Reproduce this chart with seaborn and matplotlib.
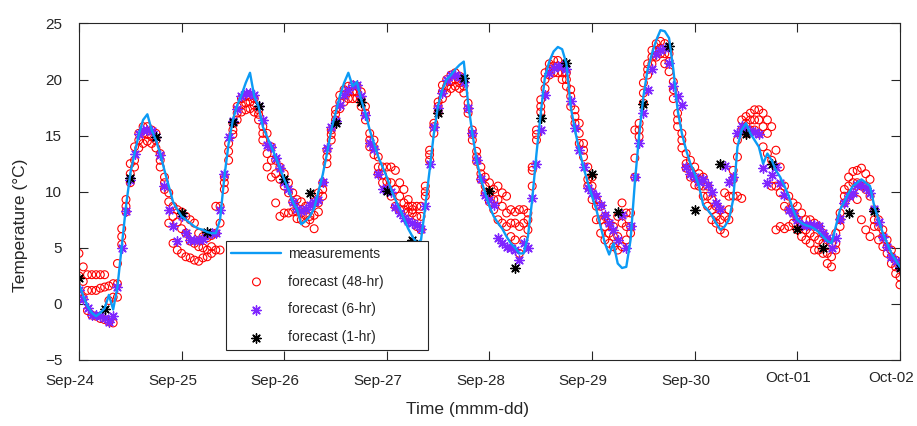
import matplotlib
matplotlib.use("Agg")
import matplotlib.pyplot as plt
import matplotlib.transforms as mtransforms
import numpy as np
import pandas as pd
import seaborn as sns

start = "2019-09-24"

# hourly measured temperature (degC), Sep-24 00:00 .. Oct-02 00:00
meas = [
    1.8, 0.7, -0.2, -0.8, -1.1, -0.8, -0.4, 0.8, -0.5, 1.5, 5.1, 8.7, 11.6, 13.4, 15.1, 16.4, 16.9, 15.5, 14.6, 13.4, 11.9, 10.5, 9.1, 8.4,
    7.8, 7.5, 7.2, 6.9, 6.7, 6.6, 6.4, 6.3, 6.3, 7.5, 11.3, 14.3, 16.4, 17.7, 18.6, 19.7, 20.6, 18.5, 17.6, 15.8, 14.9, 14.0, 13.1, 12.1,
    11.1, 10.2, 9.1, 8.4, 7.1, 7.4, 7.8, 8.5, 10.0, 11.5, 13.4, 15.5, 17.0, 18.5, 19.7, 20.6, 19.4, 19.8, 18.2, 17.0, 15.5, 14.3, 13.1, 12.2,
    11.3, 10.2, 9.3, 8.5, 7.6, 6.7, 6.0, 5.4, 5.7, 8.7, 11.9, 15.2, 17.7, 19.1, 20.0, 20.4, 20.9, 21.3, 21.6, 17.9, 15.2, 12.8, 11.1, 9.9,
    8.7, 7.8, 7.2, 6.7, 6.0, 5.4, 5.0, 4.5, 4.5, 6.0, 9.3, 13.4, 17.0, 20.3, 21.6, 22.5, 22.9, 22.7, 21.4, 17.6, 15.5, 13.7, 12.2, 10.8,
    9.6, 8.4, 6.9, 5.4, 4.4, 5.4, 3.6, 3.2, 3.3, 5.7, 10.8, 15.0, 18.5, 20.9, 22.3, 23.5, 24.4, 24.3, 23.7, 20.9, 17.3, 15.2, 13.7, 12.5,
    11.6, 10.5, 8.8, 8.4, 7.9, 7.2, 6.6, 6.9, 7.5, 9.3, 14.0, 15.5, 16.1, 15.2, 14.6, 14.0, 12.5, 13.4, 12.8, 11.9, 11.3, 10.5, 9.6, 8.4,
    7.5, 7.2, 7.0, 6.9, 6.7, 6.4, 6.0, 5.6, 5.4, 6.9, 8.4, 9.1, 9.9, 10.5, 10.8, 11.1, 10.8, 10.5, 8.7, 7.5, 6.3, 5.4, 4.5, 3.9,
    3.3,
]

# 48-hr forecast: several runs overlap at each hour (upper, middle, lower)
fc48_hi = [
    4.5, 3.3, 2.6, 2.6, 2.6, 2.6, 2.6, 1.6, 1.8, 3.6, 6.7, 9.3, 12.5, 14.0, 15.2, 15.8, 15.8, 15.5, 15.2, 13.4, 11.3, 9.9, 8.7, 8.4,
    8.2, 7.8, 7.5, 7.2, 6.3, 6.0, 5.9, 6.1, 8.7, 8.7, 11.3, 14.3, 16.1, 17.6, 18.3, 18.5, 18.5, 18.3, 17.3, 15.8, 15.2, 14.0, 12.8, 12.2,
    11.6, 10.8, 9.9, 9.3, 9.1, 8.7, 8.7, 9.1, 9.9, 10.8, 13.7, 15.5, 17.3, 18.6, 19.1, 19.4, 19.5, 19.4, 18.9, 17.6, 15.2, 14.6, 13.1, 12.2,
    12.2, 12.2, 11.9, 10.8, 10.2, 9.3, 8.7, 8.7, 8.7, 10.5, 13.7, 16.1, 18.0, 19.5, 20.0, 20.4, 20.6, 20.3, 19.8, 17.9, 15.5, 13.6, 12.2, 11.3,
    10.8, 10.2, 10.5, 9.9, 9.6, 8.4, 8.2, 8.4, 8.4, 8.1, 12.2, 15.5, 18.2, 20.6, 21.4, 21.7, 21.7, 21.2, 20.6, 19.1, 17.3, 16.1, 14.3, 12.2,
    11.3, 9.3, 8.7, 7.8, 7.2, 6.9, 7.8, 9.0, 8.1, 8.1, 15.5, 16.1, 19.7, 21.4, 22.6, 23.2, 23.4, 23.2, 22.3, 19.8, 17.0, 15.2, 13.4, 12.8,
    12.2, 11.6, 11.3, 10.5, 9.3, 8.7, 8.4, 9.9, 9.6, 11.9, 14.6, 16.4, 16.7, 17.0, 17.3, 17.3, 17.0, 16.4, 15.8, 13.7, 12.2, 10.5, 9.6, 9.0,
    8.7, 8.1, 7.5, 7.5, 7.2, 6.9, 6.3, 5.7, 5.4, 6.3, 8.1, 10.2, 11.3, 11.8, 11.9, 12.1, 11.6, 11.1, 8.4, 7.5, 6.6, 5.7, 4.8, 3.9,
    3.3,
]
fc48_mid = [
    2.5, 2.0, 1.2, 1.2, 1.2, 1.4, 1.5, 0.3, 0.6, 1.8, 6.0, 8.7, 11.6, 12.8, 14.6, 15.2, 15.1, 14.9, 14.6, 12.8, 10.8, 9.1, 7.8, 7.3,
    6.7, 6.3, 5.6, 5.4, 5.1, 5.0, 4.8, 5.1, 6.3, 7.2, 10.8, 13.6, 15.5, 17.0, 17.7, 17.9, 18.0, 17.7, 16.9, 15.2, 13.4, 12.8, 11.6, 11.1,
    10.5, 9.9, 9.1, 8.2, 8.1, 7.9, 7.8, 7.9, 9.0, 10.2, 13.1, 15.1, 16.9, 18.0, 18.6, 18.9, 18.9, 18.9, 18.2, 17.0, 14.6, 13.9, 12.2, 11.5,
    10.9, 10.8, 10.2, 9.6, 9.0, 8.7, 8.4, 7.8, 7.8, 10.0, 13.3, 15.8, 17.6, 18.9, 19.4, 19.8, 20.0, 19.7, 19.4, 17.4, 15.1, 13.1, 11.6, 10.5,
    9.9, 9.3, 9.3, 8.7, 8.1, 7.2, 7.2, 6.9, 7.2, 7.5, 11.9, 15.1, 17.6, 20.0, 20.9, 21.2, 21.2, 20.6, 20.0, 18.5, 16.7, 15.2, 13.7, 11.1,
    10.5, 8.7, 7.5, 6.9, 6.3, 6.0, 6.0, 7.2, 6.9, 6.9, 13.0, 15.5, 18.8, 20.9, 22.0, 22.6, 22.8, 22.3, 21.6, 19.1, 16.4, 14.6, 12.5, 11.9,
    11.3, 11.1, 10.5, 9.6, 8.4, 7.8, 7.5, 7.8, 8.4, 11.1, 13.1, 15.5, 16.1, 16.4, 16.4, 16.4, 15.8, 15.2, 12.8, 10.5, 9.9, 8.7, 8.4, 8.1,
    7.5, 6.9, 6.6, 6.3, 6.0, 5.7, 5.4, 4.5, 4.2, 5.4, 7.5, 9.6, 10.5, 10.8, 10.8, 10.5, 10.2, 9.6, 7.5, 6.9, 6.0, 5.1, 4.2, 3.3,
    2.4,
]
fc48_lo = [
    1.0, 0.5, -0.6, -1.0, -1.1, -1.3, -1.4, -1.6, -1.7, 0.6, 5.3, 8.2, 10.8, 12.2, 13.9, 14.3, 14.5, 14.3, 13.9, 12.2, 10.2, 7.2, 5.4, 4.8,
    4.5, 4.2, 4.1, 3.9, 3.8, 4.1, 4.2, 4.5, 4.8, 4.8, 10.2, 12.8, 15.1, 16.4, 17.1, 17.3, 17.4, 17.1, 16.4, 14.6, 12.2, 11.3, 9.0, 7.8,
    8.1, 8.1, 8.2, 7.6, 7.5, 7.2, 7.5, 6.7, 8.2, 9.6, 12.5, 14.6, 16.4, 17.4, 18.0, 18.3, 18.3, 18.3, 17.6, 16.4, 14.0, 13.3, 11.6, 10.8,
    10.2, 9.6, 8.7, 8.4, 8.4, 8.2, 8.1, 6.9, 6.6, 9.6, 12.8, 15.2, 17.1, 18.3, 18.8, 19.2, 19.4, 19.2, 18.8, 17.0, 14.6, 12.7, 11.1, 9.9,
    9.1, 8.4, 7.5, 7.2, 6.9, 6.0, 5.7, 4.5, 5.7, 6.6, 10.5, 14.6, 17.1, 19.2, 20.4, 20.6, 20.6, 20.0, 19.4, 17.6, 16.1, 14.3, 13.1, 10.5,
    9.3, 7.5, 6.3, 5.7, 5.4, 5.1, 4.8, 5.1, 5.7, 6.3, 11.3, 14.9, 17.9, 20.4, 21.4, 22.0, 22.3, 21.4, 20.7, 18.3, 15.8, 13.9, 12.1, 11.3,
    10.6, 10.5, 9.6, 8.7, 7.5, 7.2, 6.6, 6.3, 7.5, 9.6, 9.6, 9.4, 15.2, 15.5, 15.5, 15.2, 14.0, 13.4, 10.5, 6.6, 6.9, 6.7, 6.9, 7.2,
    6.6, 6.0, 5.7, 5.4, 4.8, 4.8, 4.5, 3.6, 3.3, 4.8, 6.9, 9.0, 9.6, 9.9, 9.3, 7.5, 6.6, 6.0, 6.9, 5.7, 5.1, 4.5, 3.6, 2.7,
    1.7,
]

# 6-hr forecast, hourly
fc6 = [
    1.2, 0.4, -0.4, -1.0, -1.0, -1.1, -1.3, -1.6, -1.1, 1.5, 5.0, 8.3, 11.0, 13.4, 15.1, 15.5, 15.5, 15.4, 14.9, 13.3, 10.5, 8.4, 6.9, 5.6,
    7.8, 6.3, 5.7, 5.7, 5.7, 5.8, 6.2, 6.3, 6.3, 8.4, 11.6, 14.9, 16.3, 17.4, 18.5, 18.8, 18.8, 18.6, 17.6, 16.4, 14.2, 14.0, 13.0, 12.1,
    10.9, 10.2, 9.1, 8.5, 8.3, 8.5, 8.8, 9.1, 9.3, 10.9, 13.9, 15.8, 16.3, 17.7, 18.6, 19.1, 19.5, 19.5, 18.5, 16.8, 14.3, 13.8, 11.6, 10.2,
    10.2, 10.0, 8.6, 8.1, 7.7, 7.4, 7.2, 7.0, 6.7, 8.7, 12.5, 15.8, 17.5, 18.8, 20.0, 20.4, 20.4, 20.2, 19.8, 17.5, 15.2, 12.8, 11.1, 9.7,
    9.3, 8.8, 5.9, 5.4, 5.1, 5.0, 4.8, 3.9, 5.4, 5.0, 9.4, 12.5, 15.5, 18.6, 20.6, 21.0, 21.2, 21.2, 20.9, 18.1, 15.7, 13.7, 12.2, 10.3,
    9.9, 9.6, 8.8, 7.9, 7.2, 6.6, 5.7, 7.9, 5.0, 6.9, 11.3, 14.3, 17.0, 19.1, 20.9, 22.3, 22.6, 22.8, 21.5, 19.4, 18.5, 17.7, 12.2, 11.6,
    11.3, 10.9, 11.1, 10.6, 10.0, 9.0, 8.5, 12.3, 10.9, 11.3, 15.2, 15.9, 15.6, 15.4, 15.3, 15.1, 12.1, 10.8, 11.5, 12.2, 10.8, 9.7, 8.4, 8.1,
    7.5, 7.0, 7.0, 7.0, 7.0, 6.9, 6.3, 5.9, 5.0, 5.9, 7.6, 9.0, 9.6, 9.9, 10.6, 10.6, 10.3, 9.9, 8.5, 7.3, 6.0, 5.1, 4.2, 3.8,
    3.3,
]

# 1-hr forecast, every 6 hours
fc1 = [
    2.3, -0.5, 11.2, 14.9, 8.1, 6.4, 16.2, 17.6, 11.1, 9.9, 16.1, 18.0, 10.1, 5.7, 17.0, 20.1,
    10.1, 3.2, 16.6, 21.5, 11.6, 8.2, 17.8, 23.0, 8.4, 12.5, 15.1, 12.5, 6.7, 5.0, 8.1, 8.3,
    3.2,
]

day_labels = ["Sep-24", "Sep-25", "Sep-26", "Sep-27", "Sep-28", "Sep-29", "Sep-30", "Oct-01", "Oct-02"]
y_ticks = [-5, 0, 5, 10, 15, 20, 25]

hours = pd.date_range(start, periods=len(meas), freq="h")
six_hours = pd.date_range(start, periods=len(fc1), freq="6h")
days = pd.date_range(start, periods=len(day_labels), freq="D")

df_meas = pd.DataFrame({"time": hours, "temp": meas})
df_48 = pd.concat([
    pd.DataFrame({"time": hours, "temp": fc48_hi}),
    pd.DataFrame({"time": hours, "temp": fc48_mid}),
    pd.DataFrame({"time": hours, "temp": fc48_lo}),
])
df_6 = pd.DataFrame({"time": hours, "temp": fc6})
df_1 = pd.DataFrame({"time": six_hours, "temp": fc1})

sns.set_theme(style="white")
plt.rcParams["font.family"] = ["Liberation Sans", "DejaVu Sans"]
ink = "#262626"

fig = plt.figure(figsize=(9.17, 4.26), dpi=100)
ax = fig.add_axes([0.0861, 0.155, 0.8953, 0.790])

asterisk = (8, 2, 0)
sns.lineplot(data=df_meas, x="time", y="temp", color="#0C9BF5", linewidth=1.7,
             ax=ax, label="measurements")
sns.scatterplot(data=df_48, x="time", y="temp", marker="o", s=32, color="red",
                facecolors="none", edgecolors="red", linewidth=0.8,
                ax=ax, label="forecast (48-hr)")
sns.scatterplot(data=df_6, x="time", y="temp", marker=asterisk, s=45, color="#7F26FF",
                linewidth=1.0, ax=ax, label="forecast (6-hr)")
sns.scatterplot(data=df_1, x="time", y="temp", marker=asterisk, s=45, color="black",
                linewidth=1.0, ax=ax, label="forecast (1-hr)")

ax.set_xlim(days[0], days[-1])
ax.set_ylim(-5, 25)
ax.set_xticks(days)
ax.set_xticklabels(day_labels)
ax.set_yticks(y_ticks)
ax.tick_params(axis="both", direction="in", length=6.5, width=0.8, colors=ink,
               labelsize=11, top=True, right=True, bottom=True, left=True)
ax.tick_params(axis="x", pad=10)
ax.tick_params(axis="y", pad=12)
for side in ax.spines.values():
    side.set_color(ink)
    side.set_linewidth(0.8)

# date labels sit a little left of their ticks, Oct ones a touch higher
for lab in ax.get_xticklabels():
    up = 3 if lab.get_text().startswith("Oct") else 0
    shift = mtransforms.ScaledTranslation(-9 / 100, up / 100, fig.dpi_scale_trans)
    lab.set_transform(lab.get_transform() + shift)

ax.set_xlabel("Time (mmm-dd)", fontsize=12.5, color=ink)
ax.set_ylabel("Temperature (°C)", fontsize=12.5, color=ink)
ax.xaxis.set_label_coords(0.473, -0.125)
ax.yaxis.set_label_coords(-0.0615, 0.40)

handles, labels = ax.get_legend_handles_labels()
leg = ax.legend(handles, labels, loc="lower left", bbox_to_anchor=(0.179, 0.030, 0.246, 0.33),
                mode="expand", fontsize=10, frameon=True, fancybox=False, framealpha=1,
                edgecolor=ink, labelspacing=1.0, handlelength=3.6, handletextpad=0.45,
                borderaxespad=0, scatterpoints=1)
leg.get_frame().set_linewidth(0.8)

fig.savefig("out.png", dpi=100)
